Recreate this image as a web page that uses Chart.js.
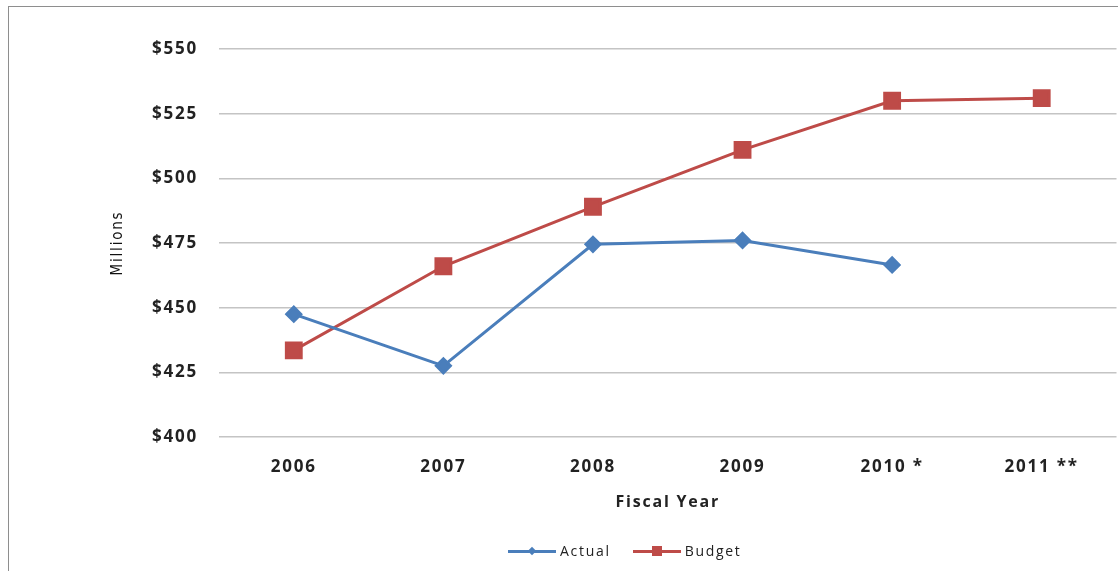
<!DOCTYPE html>
<html>
<head>
<meta charset="utf-8">
<script src="https://cdn.jsdelivr.net/npm/chart.js@4"></script>
<style>
  html, body { margin: 0; padding: 0; background: #fff; overflow: hidden; }
  #wrap { position: relative; width: 1118px; height: 571px; overflow: hidden; }
  #frame { position: absolute; left: 8px; top: 6px; width: 1200px; height: 700px; border: 1px solid #8e8e8e; box-sizing: border-box; }
  #box { position: absolute; left: 0; top: 0; width: 1130px; height: 571px; }
  #legend { position: absolute; top: 541px; left: 508px; font: 14px "Open Sans", sans-serif; color: #222; letter-spacing: 1.7px; display: flex; }
  .item { display: flex; align-items: center; margin-right: 22px; }
  .key { position: relative; width: 48px; height: 18px; margin-right: 4px; }
  .key .ln { position: absolute; left: 0; right: 0; top: 8px; height: 3px; }
  .key .mk { position: absolute; left: 19px; top: 4px; width: 10px; height: 10px; }
</style>
</head>
<body>
<div id="wrap">
  <div id="frame"></div>
  <div id="box"><canvas id="grafico"></canvas></div>
  <div id="legend"></div>
</div>
<script>
const years = ["2006", "2007", "2008", "2009", "2010 *", "2011 **"];
const actual = [447.5, 427.5, 474.5, 476, 466.5, null];
const budget = [433.5, 466, 489, 511, 530, 531];
const yTicks = [400, 425, 450, 475, 500, 525, 550];

const azul = "#4a7ebb";
const rojo = "#be4b48";

// espaciado entre letras para los textos del canvas
const espaciado = {
  id: "espaciado",
  beforeInit(chart) { chart.ctx.letterSpacing = "1.8px"; },
  beforeDraw(chart) { chart.ctx.letterSpacing = "1.8px"; }
};

const ctx = document.getElementById("grafico");
const grafico = new Chart(ctx, {
  type: "line",
  plugins: [espaciado],
  data: {
    labels: years,
    datasets: [{
      label: "Actual",
      data: actual,
      borderColor: azul,
      backgroundColor: azul,
      borderWidth: 3,
      pointStyle: "rectRot",
      pointRadius: 7,
      pointHoverRadius: 7,
      tension: 0
    }, {
      label: "Budget",
      data: budget,
      borderColor: rojo,
      backgroundColor: rojo,
      borderWidth: 3,
      pointStyle: "rect",
      pointRadius: 10.5,
      pointHoverRadius: 10.5,
      tension: 0
    }]
  },
  options: {
    responsive: true,
    maintainAspectRatio: false,
    animation: false,
    layout: { padding: { left: 0, top: 49, right: 5, bottom: 59 } },
    plugins: {
      legend: { display: false },
      tooltip: { enabled: false }
    },
    scales: {
      x: {
        offset: true,
        afterFit: (scale) => { scale.height = 75; },
        grid: { display: false, drawTicks: false },
        border: { display: false },
        ticks: {
          padding: 20,
          color: "#222",
          font: { family: "Open Sans", size: 17, weight: "bold" }
        },
        title: {
          display: true,
          text: "Fiscal Year",
          color: "#222",
          padding: { top: 19, bottom: 0 },
          font: { family: "Open Sans", size: 16, weight: "bold" }
        }
      },
      y: {
        min: 400,
        max: 550,
        afterBuildTicks: (scale) => { scale.ticks = yTicks.map(v => ({ value: v })); },
        afterFit: (scale) => { scale.width = 219; },
        grid: { color: "#c4c4c4", lineWidth: 1.5, drawTicks: false },
        border: { display: false },
        ticks: {
          padding: 21,
          color: "#222",
          font: { family: "Open Sans", size: 17, weight: "bold" },
          callback: (v) => "$" + v
        },
        title: {
          display: true,
          text: "Millions",
          color: "#111",
          padding: { top: 109, bottom: 0 },
          font: { family: "DejaVu Sans Condensed", size: 15 }
        }
      }
    }
  }
});

// leyenda en html con los colores de cada serie
const leyenda = document.getElementById("legend");
grafico.data.datasets.forEach(ds => {
  const item = document.createElement("div");
  item.className = "item";
  const key = document.createElement("div");
  key.className = "key";
  const ln = document.createElement("div");
  ln.className = "ln";
  ln.style.background = ds.borderColor;
  const mk = document.createElement("div");
  mk.className = "mk";
  mk.style.background = ds.backgroundColor;
  if (ds.pointStyle === "rectRot") {
    mk.style.transform = "rotate(45deg) scale(0.6)";
  }
  key.appendChild(ln);
  key.appendChild(mk);
  const txt = document.createElement("span");
  txt.textContent = ds.label;
  item.appendChild(key);
  item.appendChild(txt);
  leyenda.appendChild(item);
});
</script>
</body>
</html>
